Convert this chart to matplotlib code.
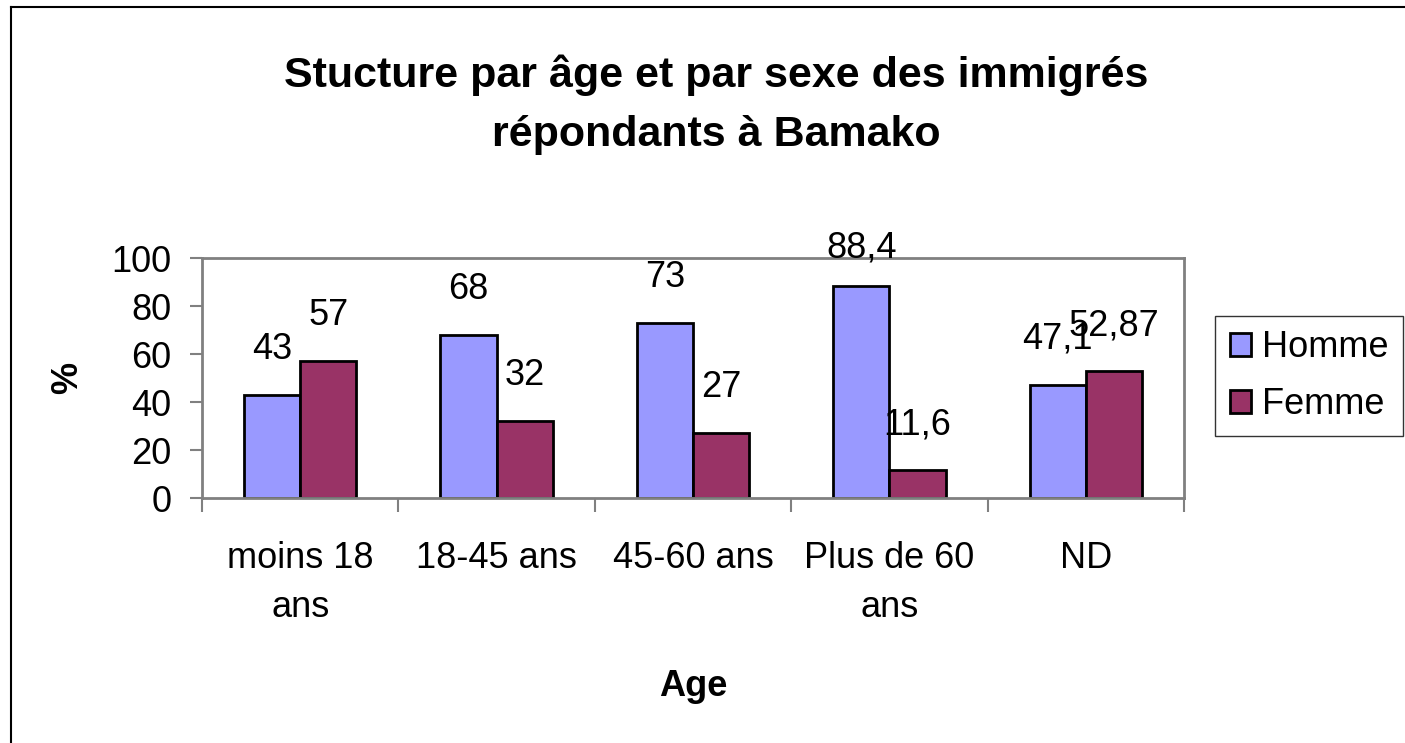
import matplotlib
matplotlib.use('Agg')
import matplotlib.pyplot as plt
from matplotlib.lines import Line2D
import numpy as np

plt.rcParams['font.family'] = ['Liberation Sans', 'DejaVu Sans']

categories = ['moins 18\nans', '18-45 ans', '45-60 ans', 'Plus de 60\nans', 'ND']
homme = [43, 68, 73, 88.4, 47.1]
femme = [57, 32, 27, 11.6, 52.87]
homme_txt = ['43', '68', '73', '88,4', '47,1']
femme_txt = ['57', '32', '27', '11,6', '52,87']

fig = plt.figure(figsize=(14.05, 7.43), dpi=100)
ax = fig.add_axes([202 / 1405, 1 - 498 / 743, 982 / 1405, 240 / 743])

x = np.arange(len(categories))
w = 0.286
ax.bar(x - w / 2, homme, w, color='#9999FF', edgecolor='black', linewidth=2, label='Homme')
ax.bar(x + w / 2, femme, w, color='#993366', edgecolor='black', linewidth=2, label='Femme')

# etiquettes de donnees (au-dessus des barres, bloquees en haut du graphique)
for xi, v, t in zip(x - w / 2, homme, homme_txt):
    ax.text(xi, min(v + 19, 104), t, ha='center', va='center', fontsize=26, clip_on=False)
for xi, v, t in zip(x + w / 2, femme, femme_txt):
    ax.text(xi, min(v + 19, 104), t, ha='center', va='center', fontsize=26, clip_on=False)

ax.set_xlim(-0.5, 4.5)
ax.set_ylim(0, 100)
ax.set_yticks([0, 20, 40, 60, 80, 100])
ax.tick_params(axis='y', labelsize=26, length=9, width=1.5, color='#808080', pad=13)

ax.set_xticks(np.arange(-0.5, 5, 1))
ax.set_xticklabels([])
ax.tick_params(axis='x', which='major', length=10, width=1.5, color='#808080')
ax.set_xticks(x, minor=True)
ax.set_xticklabels(categories, minor=True, fontsize=26, linespacing=1.5)
ax.tick_params(axis='x', which='minor', length=0, pad=31)

for s in ax.spines.values():
    s.set_color('#808080')
    s.set_linewidth(2)

ax.set_ylabel('%', fontsize=26, fontweight='bold')
ax.yaxis.set_label_coords(-0.119, 0.5)
ax.set_xlabel('Age', fontsize=26, fontweight='bold')
ax.xaxis.set_label_coords(0.5, -0.713)

fig.text(0.510, 1 - 105 / 743, 'Stucture par âge et par sexe des immigrés\nrépondants à Bamako',
         ha='center', va='center', fontsize=31, fontweight='bold', linespacing=1.6)

leg = fig.legend(loc='center', bbox_to_anchor=(1309 / 1405, 1 - 376 / 743), fontsize=26,
                 fancybox=False, frameon=True, edgecolor='black', handlelength=0.6,
                 handleheight=0.6, handletextpad=0.3, labelspacing=0.6, borderpad=0.4,
                 borderaxespad=0)
leg.get_frame().set_linewidth(1)

# cadre exterieur
fig.add_artist(Line2D([11 / 1405, 11 / 1405], [0, 1 - 7 / 743], color='black', linewidth=1.5))
fig.add_artist(Line2D([11 / 1405, 1], [1 - 7 / 743, 1 - 7 / 743], color='black', linewidth=1.5))

fig.savefig('out.png', dpi=100, facecolor='white')
